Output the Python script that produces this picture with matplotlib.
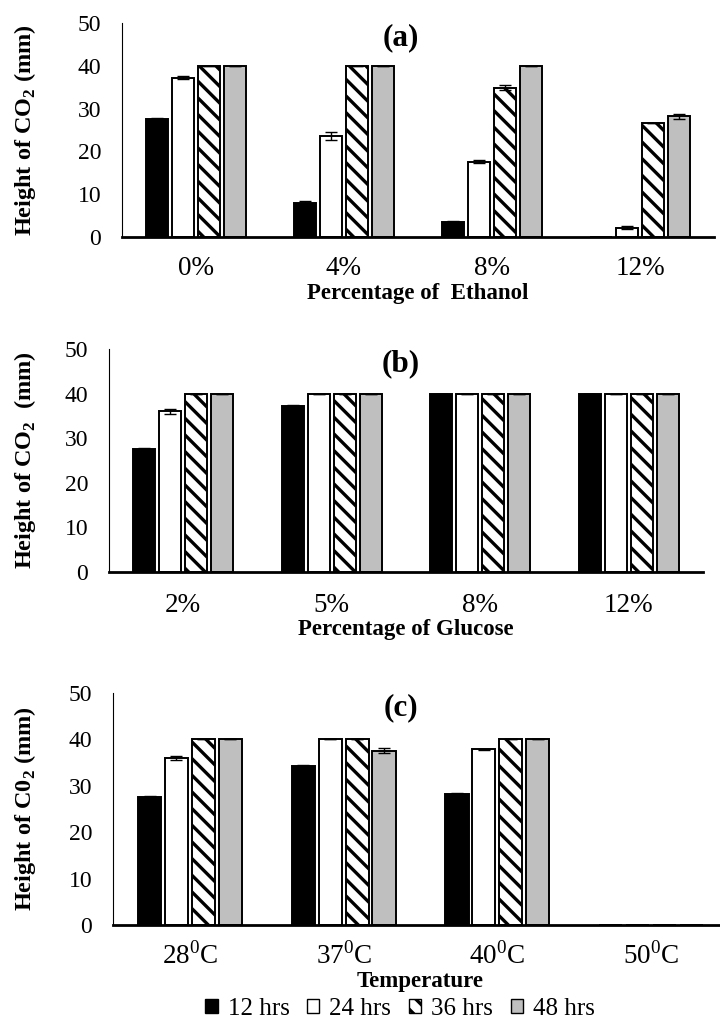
import matplotlib
matplotlib.use("Agg")
import matplotlib.pyplot as plt
import numpy as np
from matplotlib.patches import Patch

plt.rcParams['font.family'] = ['Liberation Serif', 'DejaVu Serif']
plt.rcParams['mathtext.fontset'] = 'custom'
plt.rcParams['mathtext.rm'] = 'Liberation Serif'
plt.rcParams['mathtext.bf'] = 'Liberation Serif:bold'
plt.rcParams['hatch.linewidth'] = 2.4

series = ['12 hrs', '24 hrs', '36 hrs', '48 hrs']

# Panel (a)
cats_a = ['0%', '4%', '8%', '12%']
a_12 = [27.6, 8.0, 3.6, 0.0]
a_24 = [37.2, 23.6, 17.6, 2.2]
a_36 = [40.0, 40.0, 34.9, 26.6]
a_48 = [40.0, 40.0, 40.0, 28.2]
a_12_err = [0.2, 0.5, 0.2, 0.0]
a_24_err = [0.3, 0.9, 0.3, 0.3]
a_36_err = [0.0, 0.0, 0.5, 0.0]
a_48_err = [0.0, 0.0, 0.0, 0.6]

# Panel (b)
cats_b = ['2%', '5%', '8%', '12%']
b_12 = [27.6, 37.3, 40.0, 40.0]
b_24 = [36.0, 40.0, 40.0, 40.0]
b_36 = [40.0, 40.0, 40.0, 40.0]
b_48 = [40.0, 40.0, 40.0, 40.0]
b_12_err = [0.2, 0.2, 0.0, 0.0]
b_24_err = [0.5, 0.0, 0.0, 0.0]
b_36_err = [0.0, 0.0, 0.0, 0.0]
b_48_err = [0.0, 0.0, 0.0, 0.0]

# Panel (c)
cats_c = [r'28$^\mathrm{0}$C', r'37$^\mathrm{0}$C', r'40$^\mathrm{0}$C', r'50$^\mathrm{0}$C']
c_12 = [27.6, 34.3, 28.3, 0.0]
c_24 = [36.0, 40.0, 37.9, 0.0]
c_36 = [40.0, 40.0, 40.0, 0.0]
c_48 = [40.0, 37.6, 40.0, 0.0]
c_12_err = [0.2, 0.2, 0.2, 0.0]
c_24_err = [0.5, 0.0, 0.1, 0.0]
c_36_err = [0.0, 0.0, 0.0, 0.0]
c_48_err = [0.0, 0.6, 0.0, 0.0]

styles = [dict(facecolor='black', hatch=None),
          dict(facecolor='white', hatch=None),
          dict(facecolor='white', hatch='\\\\'),
          dict(facecolor='#bfbfbf', hatch=None)]

W, H = 720, 1021
fig = plt.figure(figsize=(W / 100, H / 100), dpi=100)

def panel(left, right, top, bottom, cats, vals, errs, title, xlabel, ylabel,
          xtickpad, xlabelpad, ylabelx):
    ax = fig.add_axes([left / W, 1 - bottom / H, (right - left) / W, (bottom - top) / H])
    x = np.arange(len(cats))
    slot = 0.175
    for i, (v, e) in enumerate(zip(vals, errs)):
        off = (i - 1.5) * slot
        ax.bar(x + off, v, width=0.15, color=styles[i]['facecolor'],
               hatch=styles[i]['hatch'], edgecolor='black', linewidth=1.4, zorder=2)
        ax.errorbar(x + off, v, yerr=e, fmt='none', ecolor='black',
                    elinewidth=1.0, capsize=4, capthick=1.0, zorder=3)
    ax.set_xlim(-0.5, len(cats) - 0.5)
    ax.set_ylim(0, 50)
    ax.set_yticks([0, 10, 20, 30, 40, 50])
    ax.set_xticks(x)
    ax.set_xticklabels(cats, fontsize=19.5)
    ax.tick_params(axis='y', labelsize=17, length=0, pad=15)
    ax.tick_params(axis='x', length=0, pad=xtickpad)
    for s in ['top', 'right']:
        ax.spines[s].set_visible(False)
    ax.spines['left'].set_linewidth(0.8)
    ax.spines['bottom'].set_linewidth(2.0)
    ax.text((401 - left) / (right - left), 1 - 15 / (bottom - top), title,
            transform=ax.transAxes, ha='center', va='center',
            fontsize=22.5, fontweight='bold')
    ax.set_ylabel(ylabel, fontsize=17.5, fontweight='bold')
    ax.yaxis.set_label_coords((ylabelx - left) / (right - left), 0.5)
    ax.set_xlabel(xlabel, fontsize=16.5, fontweight='bold', labelpad=xlabelpad)
    return ax

panel(122, 714, 23, 237, cats_a,
      [a_12, a_24, a_36, a_48], [a_12_err, a_24_err, a_36_err, a_48_err],
      '(a)', 'Percentage of  Ethanol', r'Height of CO$_\mathbf{2}$ (mm)', 14, 1, 38)
panel(109, 703, 349, 572, cats_b,
      [b_12, b_24, b_36, b_48], [b_12_err, b_24_err, b_36_err, b_48_err],
      '(b)', 'Percentage of Glucose', r'Height of CO$_\mathbf{2}$  (mm)', 15, 1, 38)
panel(113, 728, 693, 925, cats_c,
      [c_12, c_24, c_36, c_48], [c_12_err, c_24_err, c_36_err, c_48_err],
      '(c)', 'Temperature', r'Height of C0$_\mathbf{2}$ (mm)', 12, 1, 38)

handles = [Patch(facecolor=styles[i]['facecolor'], hatch=styles[i]['hatch'],
                 edgecolor='black', linewidth=1.0) for i in range(4)]
fig.legend(handles, series, loc='center', bbox_to_anchor=(400 / W, 1 - 1009 / H), ncol=4,
           frameon=False, fontsize=18, handlelength=0.5, handleheight=0.5,
           handletextpad=0.4, columnspacing=0.7, borderpad=0)

fig.savefig('out.png', dpi=100)
